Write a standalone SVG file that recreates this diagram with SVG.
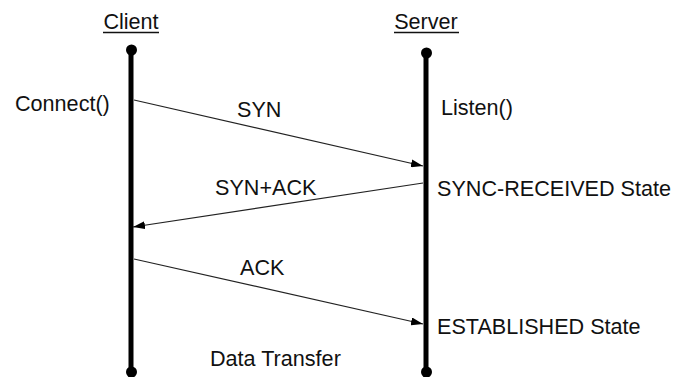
<svg xmlns="http://www.w3.org/2000/svg" width="683" height="377" viewBox="0 0 683 377">
  <style>
    text { font-family: "Liberation Sans", Arial, sans-serif; font-size: 21.6px; fill: #111; }
    .life { stroke: #000; stroke-width: 5; fill: none; }
    .end { fill: #000; }
    .msg { stroke: #222; stroke-width: 1.2; fill: none; marker-end: url(#arrow); }
    .ul { stroke: #111; stroke-width: 1.5; }
  </style>
  <defs>
    <marker id="arrow" viewBox="0 0 12 8" refX="12" refY="4" markerWidth="12" markerHeight="8" markerUnits="userSpaceOnUse" orient="auto">
      <path d="M0,0 L12,4 L0,8 Z" fill="#000"/>
    </marker>
  </defs>
  <rect width="683" height="377" fill="#fff"/>

  <!-- Client lifeline -->
  <g id="client">
    <text x="131" y="29" text-anchor="middle">Client</text>
    <line class="ul" x1="103" y1="32.5" x2="159" y2="32.5"/>
    <line class="life" x1="131" y1="50" x2="131" y2="377"/>
    <circle class="end" cx="131.5" cy="50" r="5.5"/>
    <circle class="end" cx="131.5" cy="372" r="5.5"/>
  </g>

  <!-- Server lifeline -->
  <g id="server">
    <text x="426" y="29" text-anchor="middle">Server</text>
    <line class="ul" x1="394" y1="32.5" x2="459" y2="32.5"/>
    <line class="life" x1="426" y1="53" x2="426" y2="377"/>
    <circle class="end" cx="426.5" cy="53" r="5.5"/>
    <circle class="end" cx="426.5" cy="372" r="5.5"/>
  </g>

  <!-- Side notes -->
  <g id="connect"><text x="15" y="111">Connect()</text></g>
  <g id="listen"><text x="441" y="115">Listen()</text></g>
  <g id="sync-received"><text x="437" y="196">SYNC-RECEIVED State</text></g>
  <g id="established"><text x="437" y="334">ESTABLISHED State</text></g>
  <g id="data-transfer"><text x="210" y="366">Data Transfer</text></g>

  <!-- Handshake messages -->
  <g id="connectors">
    <line class="msg" x1="134" y1="100" x2="423" y2="166"/>
    <line class="msg" x1="423" y1="183" x2="133" y2="227"/>
    <line class="msg" x1="134" y1="259" x2="423" y2="324"/>
  </g>
  <g id="labels">
    <text x="237" y="117">SYN</text>
    <text x="215" y="195">SYN+ACK</text>
    <text x="240" y="275">ACK</text>
  </g>
</svg>
